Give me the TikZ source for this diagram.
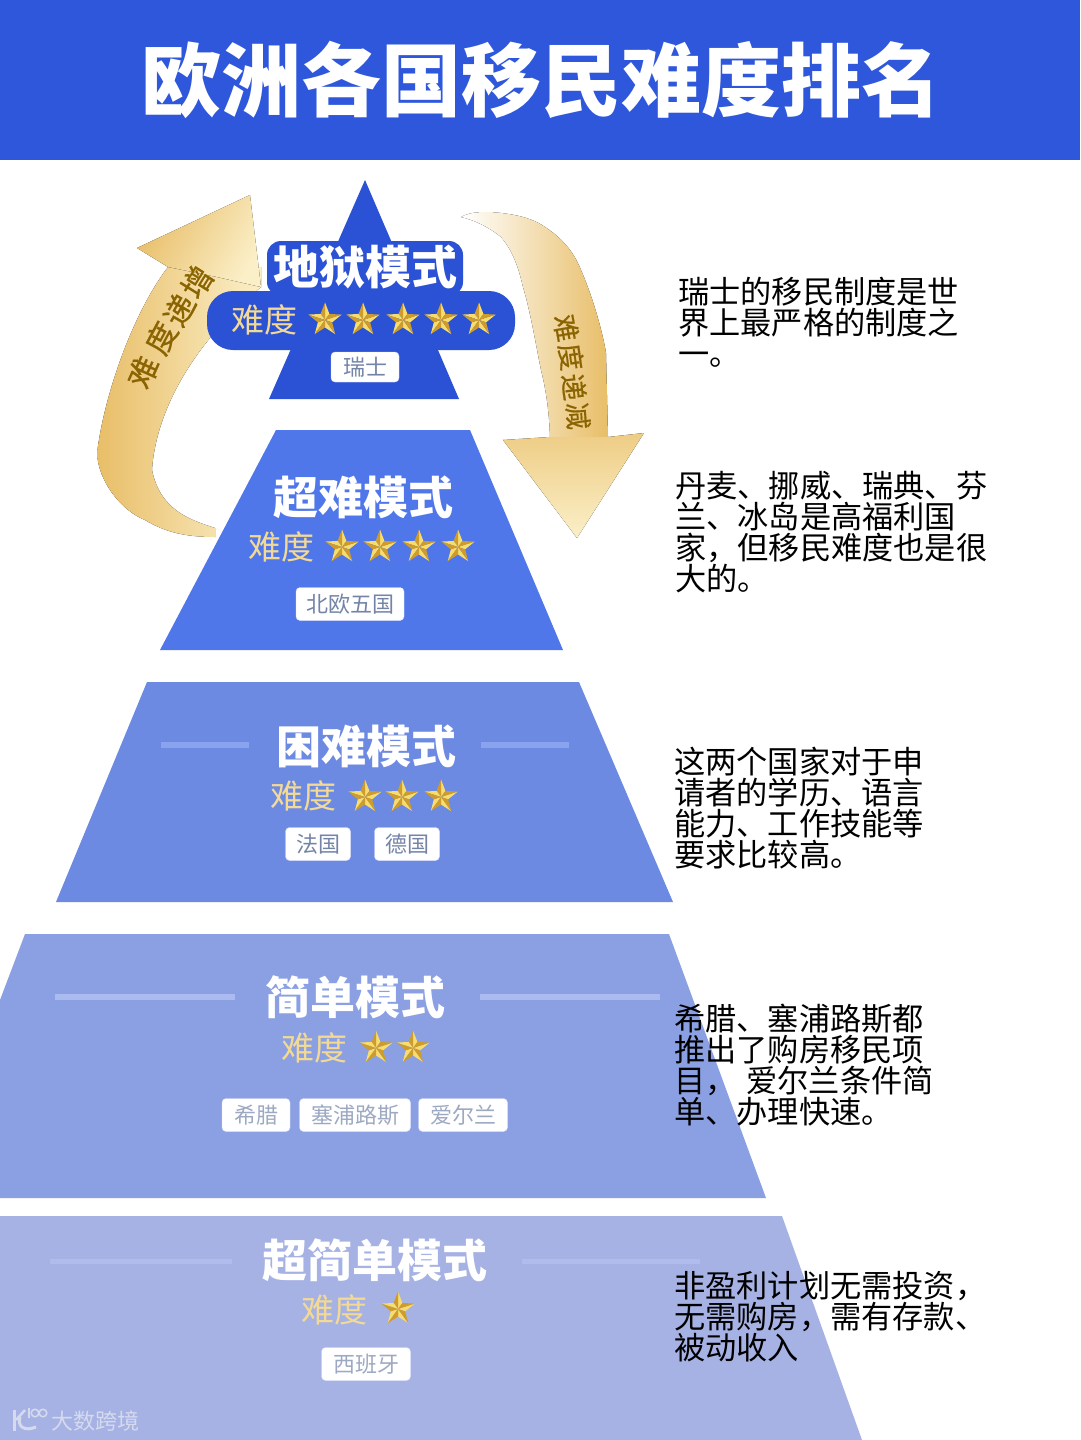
\documentclass[tikz,border=0pt]{standalone}
\usepackage{fontspec}
\setmainfont{Noto Sans CJK SC}
\newfontfamily\arrowfont[FakeBold=0.5]{Noto Sans CJK SC}
\usepackage{tikz}
\usetikzlibrary{shapes.geometric}

\definecolor{headblue}{HTML}{2E57DC}
\definecolor{hellblue}{HTML}{2B52D4}
\definecolor{hardblue}{HTML}{5077EA}
\definecolor{midblue}{HTML}{6D8AE2}
\definecolor{easyblue}{HTML}{8AA0E3}
\definecolor{softblue}{HTML}{A6B2E3}
\definecolor{midline}{HTML}{8AA3EE}
\definecolor{easyline}{HTML}{ABBBF0}
\definecolor{softline}{HTML}{B0BDEC}
\definecolor{wordgold}{HTML}{F2D996}
\definecolor{arrowtext}{HTML}{8A6400}
\definecolor{tagtext}{HTML}{7384A8}
\definecolor{arrowdark}{HTML}{E8BE68}
\definecolor{arrowpale}{HTML}{FBEFC8}
\definecolor{starlight}{HTML}{F7DC6E}
\definecolor{stardark}{HTML}{CE9C2C}
\definecolor{markgray}{HTML}{D5DAEF}

\tikzset{
  modetitle/.style={font=\fontsize{45}{45}\selectfont\bfseries, text=white, inner sep=0pt},
  diffword/.style={font=\fontsize{33}{33}\selectfont, text=wordgold, inner sep=0pt},
  regiontag/.style={fill=white, draw=white!85!blue, rounded corners=4pt, inner sep=0pt, minimum height=33pt, font=\fontsize{22}{22}\selectfont, text=tagtext},
  sidenote/.style={font=\fontsize{31.2}{31}\selectfont, text=black, align=left, anchor=north west, inner sep=0pt},
  arrowword/.style={font=\fontsize{31}{31}\selectfont\arrowfont, text=arrowtext, inner sep=0pt},
  pics/goldstar/.style={code={
    \foreach \a in {-90,-18,54,126,198} {
      \fill[starlight] (0,0) -- (\a:17.5) -- (\a+36:7.5) -- cycle;
      \fill[stardark] (0,0) -- (\a:17.5) -- (\a-36:7.5) -- cycle;
    }
  }}
}

\begin{document}
\begin{tikzpicture}[x=1pt,y=-1pt]
  \useasboundingbox (0,0) rectangle (1080,1440);
  \fill[white] (0,0) rectangle (1080,1440);
  \fill[headblue] (0,0) rectangle (1080,160);
  \node[font=\fontsize{80}{80}\selectfont\bfseries, text=white, inner sep=0pt] (title) at (541,80) {欧洲各国移民难度排名};

  % golden arrows
  \fill[left color=arrowdark, right color=arrowpale] (168,267) .. controls (135,310) and (105,390) .. (97,453) .. controls (98,480) and (120,510) .. (145,520) .. controls (165,532) and (185,537) .. (215,537) -- (215,528) .. controls (190,520) and (160,510) .. (152,470) .. controls (155,420) and (185,350) .. (261,287) -- (261,267) -- cycle;
  \fill[left color=arrowdark, right color=arrowpale, shading angle=60] (250,195) -- (137,248) -- (168,267) -- (217,277) -- (261,287) -- cycle;
  \fill[left color=white, right color=arrowdark] (461,217) .. controls (470,212) and (480,212) .. (490,212) .. controls (520,214) and (535,220) .. (545,227) .. controls (565,240) and (575,255) .. (581,270) .. controls (596,305) and (604,340) .. (606,353) -- (608,437) -- (550,437) .. controls (549,410) and (546,390) .. (541,370) .. controls (535,340) and (530,310) .. (523,287) .. controls (518,265) and (512,250) .. (501,237) .. controls (490,228) and (475,220) .. (461,217) -- cycle;
  \fill[top color=arrowdark!70!arrowpale, bottom color=arrowpale] (644,433) -- (577,538) -- (503,440) -- (550,437) -- (608,437) -- cycle;
  \foreach \x/\y/\r/\c in {143/372/66/难, 161/338/62/度, 179/310/60/递, 197/282/58/增}
    \node[arrowword, rotate=\r] at (\x,\y) {\c};
  \foreach \x/\y/\r/\c in {566/328/-80/难, 571/357/-82/度, 574/387/-84/递, 578/416/-86/减}
    \node[arrowword, font=\fontsize{27}{27}\selectfont\arrowfont, rotate=\r] at (\x,\y) {\c};

  % hell level
  \fill[hellblue] (365,180) -- (459,399) -- (269,399) -- cycle;
  \fill[hellblue, rounded corners=26pt] (207,291) rectangle (515,350);
  \fill[hellblue, rounded corners=14pt] (267,241) rectangle (463,296);
  \node[modetitle, font=\fontsize{46}{46}\selectfont\bfseries] (hell) at (365,267) {地狱模式};
  \node[diffword] (hellword) at (264,320) {难度};
  \foreach \x in {325,363,403,441,479}
    \pic at (\x,320) {goldstar};
  \node[regiontag, minimum width=68pt, minimum height=30pt] (swiss) at (365,367) {瑞士};

  % very hard level
  \fill[hardblue] (276,430) -- (470,430) -- (563,650) -- (160,650) -- cycle;
  \node[modetitle] (hard) at (363,497) {超难模式};
  \node[diffword] (hardword) at (281,547) {难度};
  \foreach \x in {342,380,419,458}
    \pic at (\x,547) {goldstar};
  \node[regiontag, minimum width=108pt] (nordic) at (350,604) {北欧五国};

  % hard level
  \fill[midblue] (147,682) -- (579,682) -- (673,902) -- (56,902) -- cycle;
  \draw[line width=6pt, midline] (161,745) -- (249,745);
  \draw[line width=6pt, midline] (481,745) -- (569,745);
  \node[modetitle] (mid) at (366,746) {困难模式};
  \node[diffword] (midword) at (303,796) {难度};
  \foreach \x in {365,402,441}
    \pic at (\x,797) {goldstar};
  \node[regiontag, minimum width=65pt] (france) at (318,844) {法国};
  \node[regiontag, minimum width=65pt] (germany) at (407,844) {德国};

  % easy level
  \fill[easyblue] (25,934) -- (669,934) -- (766,1198) -- (0,1198) -- (0,1000) -- cycle;
  \draw[line width=6pt, easyline] (55,997) -- (235,997);
  \draw[line width=6pt, easyline] (480,997) -- (660,997);
  \node[modetitle] (easy) at (355,997) {简单模式};
  \node[diffword] (easyword) at (314,1048) {难度};
  \foreach \x in {376,413}
    \pic at (\x,1048) {goldstar};
  \node[regiontag, minimum width=68pt, text=tagtext!70!white] (greece) at (256,1115) {希腊};
  \node[regiontag, minimum width=111pt, text=tagtext!70!white] (cyprus) at (355,1115) {塞浦路斯};
  \node[regiontag, minimum width=89pt, text=tagtext!70!white] (ireland) at (463,1115) {爱尔兰};

  % very easy level
  \fill[softblue] (0,1216) -- (782,1216) -- (862,1440) -- (0,1440) -- cycle;
  \draw[line width=5pt, softline] (50,1261) -- (232,1261);
  \draw[line width=5pt, softline] (522,1261) -- (700,1261);
  \node[modetitle] (simple) at (375,1260) {超简单模式};
  \node[diffword] (simpleword) at (334,1310) {难度};
  \pic at (398,1309) {goldstar};
  \node[regiontag, minimum width=89pt, text=tagtext!70!white] (spain) at (366,1364) {西班牙};

  % side notes
  \node[sidenote] (note1) at (678,277) {瑞士的移民制度是世\\界上最严格的制度之\\一。};
  \node[sidenote] (note2) at (675,471) {丹麦、挪威、瑞典、芬\\兰、冰岛是高福利国\\家，但移民难度也是很\\大的。};
  \node[sidenote] (note3) at (674,747) {这两个国家对于申\\请者的学历、语言\\能力、工作技能等\\要求比较高。};
  \node[sidenote] (note4) at (674,1004) {希腊、塞浦路斯都\\推出了购房移民项\\目，\hspace{10pt}爱尔兰条件简\\单、办理快速。};
  \node[sidenote] (note5) at (674,1271) {非盈利计划无需投资，\\无需购房，需有存款、\\被动收入};

  % watermark
  \draw[markgray, line width=3pt] (14,1410) -- (14,1431);
  \draw[markgray, line width=2.5pt] (25,1410) -- (16,1420);
  \draw[markgray, line width=3pt] (20,1417) .. controls (17,1426) and (24,1432) .. (36,1427);
  \draw[markgray, line width=1.5pt] (29,1408) -- (29,1418);
  \draw[markgray, line width=1.5pt] (35,1413) circle (3.8);
  \draw[markgray, line width=1.5pt] (43,1413) circle (3.8);
  \node[font=\fontsize{22}{22}\selectfont, text=markgray, inner sep=0pt] (mark) at (95,1421) {大数跨境};
\end{tikzpicture}
\end{document}
